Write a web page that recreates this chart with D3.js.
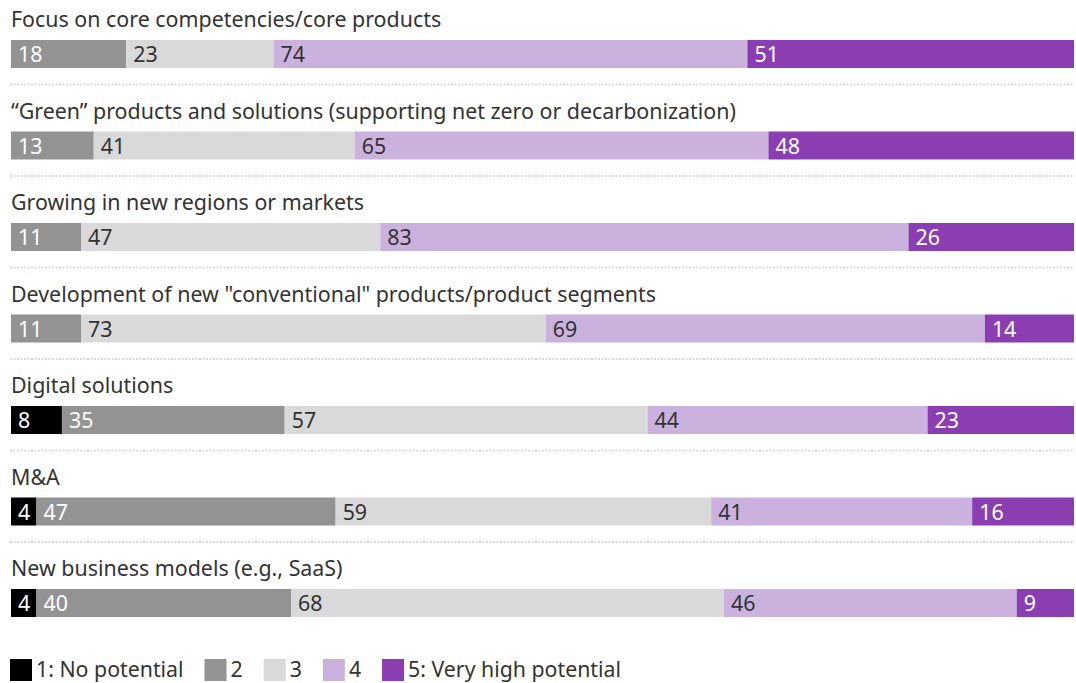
<!DOCTYPE html>
<html>
<head>
<meta charset="utf-8">
<script src="https://cdn.jsdelivr.net/npm/d3@7"></script>
<style>
  html, body { margin: 0; padding: 0; background: #fff; }
  svg { display: block; font-family: "Noto Sans", "Open Sans", sans-serif; }
</style>
</head>
<body>
<svg id="chart" width="1076" height="683"></svg>
<script>
// Survey responses: potential rating counts per strategic field
const categories = [
  "Focus on core competencies/core products",
  "\u201CGreen\u201D products and solutions (supporting net zero or decarbonization)",
  "Growing in new regions or markets",
  "Development of new \"conventional\" products/product segments",
  "Digital solutions",
  "M&A",
  "New business models (e.g., SaaS)"
];
const ratingNames = ["1: No potential", "2", "3", "4", "5: Very high potential"];
const rating1 = [0, 0, 0, 0, 8, 4, 4];
const rating2 = [18, 13, 11, 11, 35, 47, 40];
const rating3 = [23, 41, 47, 73, 57, 59, 68];
const rating4 = [74, 65, 83, 69, 44, 41, 46];
const rating5 = [51, 48, 26, 14, 23, 16, 9];

const series = [rating1, rating2, rating3, rating4, rating5];
const colors = ["#000000", "#939393", "#d9d9d9", "#cbb2de", "#8b3db2"];
const labelColors = ["#ffffff", "#ffffff", "#333333", "#333333", "#ffffff"];

const svg = d3.select("#chart");
const left = 11, right = 1074;
const barH = 28;

// one band per category; bar top sits at the band start
const y = d3.scaleBand().domain(categories).range([40, 40 + 91.5 * categories.length]).paddingInner(0).paddingOuter(0);

const rows = categories.map((c, i) => {
  const vals = series.map(s => s[i]);
  const total = d3.sum(vals);
  const x = d3.scaleLinear().domain([0, total]).range([left, right]);
  let acc = 0;
  const segs = vals.map((v, k) => {
    const s = { k, v, x0: x(acc), x1: x(acc + v) };
    acc += v;
    return s;
  });
  return { c, i, segs };
});

// dotted separators between rows
svg.append("g").selectAll("line")
  .data(categories.slice(0, -1))
  .join("line")
  .attr("x1", left - 1).attr("x2", right)
  .attr("y1", d => y(d) + barH + 16.5)
  .attr("y2", d => y(d) + barH + 16.5)
  .attr("stroke", "#d9d9d9")
  .attr("stroke-width", 2)
  .attr("stroke-dasharray", "2,1.5");

const row = svg.append("g").selectAll("g.row")
  .data(rows)
  .join("g")
  .attr("class", "row")
  .attr("transform", d => `translate(0,${y(d.c)})`);

row.append("text")
  .attr("x", left)
  .attr("y", -13)
  .attr("fill", "#333333")
  .attr("font-size", 21.4)
  .text(d => d.c);

const seg = row.selectAll("g.seg")
  .data(d => d.segs.filter(s => s.v > 0))
  .join("g")
  .attr("class", "seg");

seg.append("rect")
  .attr("x", s => s.x0)
  .attr("y", 0)
  .attr("width", s => Math.max(0, s.x1 - s.x0))
  .attr("height", barH)
  .attr("fill", s => colors[s.k]);

seg.append("text")
  .attr("x", s => s.x0 + 7)
  .attr("y", 22)
  .attr("font-size", 21.4)
  .attr("fill", s => labelColors[s.k])
  .text(s => s.v);

// legend laid out left to right from measured text widths
const legend = svg.append("g").attr("transform", "translate(10,659)");
let lx = 0;
ratingNames.forEach((name, k) => {
  const g = legend.append("g").attr("transform", `translate(${lx},0)`);
  g.append("rect").attr("width", 22).attr("height", 22).attr("fill", colors[k]);
  const t = g.append("text")
    .attr("x", 26).attr("y", 18)
    .attr("font-size", 21.3)
    .attr("fill", "#333333")
    .text(name);
  lx += 26 + t.node().getComputedTextLength() + 21;
});
</script>
</body>
</html>
